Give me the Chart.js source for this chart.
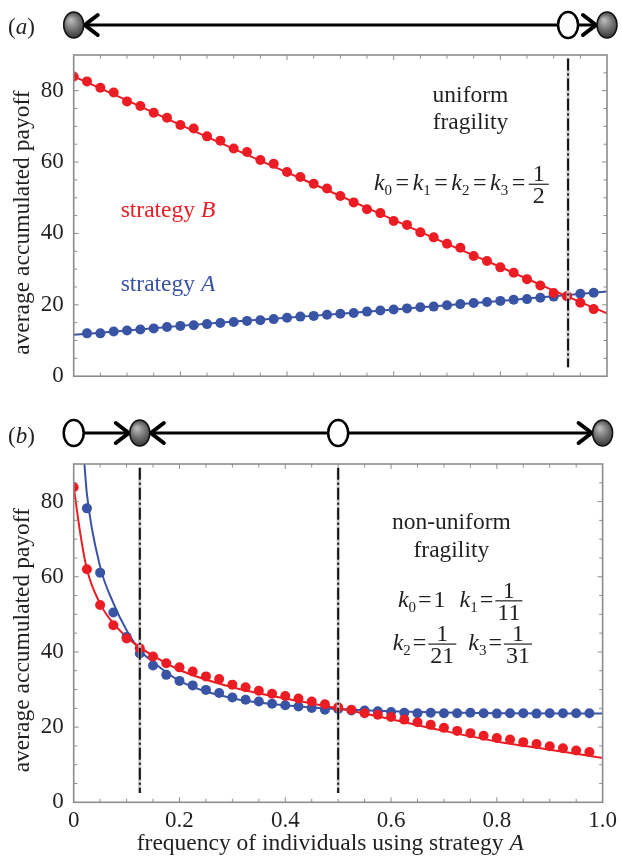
<!DOCTYPE html>
<html>
<head>
<meta charset="utf-8">
<script src="https://cdn.jsdelivr.net/npm/chart.js@4.4.1/dist/chart.umd.min.js"></script>
<style>
  html, body { margin: 0; padding: 0; background: #fff; }
  #wrap { position: relative; width: 622px; height: 856px; }
  canvas { position: absolute; left: 0; }
  #chartA { top: 0; }
  #chartB { top: 400px; }
</style>
</head>
<body>
<div id="wrap">
  <canvas id="chartA" width="622" height="400"></canvas>
  <canvas id="chartB" width="622" height="456"></canvas>
</div>
<script>
/* ==========================
   Data
   ========================== */
// frequency of A at which the simulated points sit
const xGrid = [0, 0.025, 0.05, 0.075, 0.1, 0.125, 0.15, 0.175, 0.2, 0.225,
  0.25, 0.275, 0.3, 0.325, 0.35, 0.375, 0.4, 0.425, 0.45, 0.475,
  0.5, 0.525, 0.55, 0.575, 0.6, 0.625, 0.65, 0.675, 0.7, 0.725,
  0.75, 0.775, 0.8, 0.825, 0.85, 0.875, 0.9, 0.925, 0.95, 0.975];

// (a) uniform fragility - simulation points
const redPtsA = [84.0, 82.6, 80.8, 79.5, 77.0, 75.7, 73.8, 72.4, 70.4, 69.4,
  67.2, 66.0, 63.8, 62.8, 60.6, 59.5, 57.2, 55.8, 53.9, 52.6,
  50.5, 48.7, 46.8, 45.7, 43.5, 42.4, 40.3, 38.9, 37.1, 36.0,
  33.7, 32.3, 30.5, 29.0, 27.2, 25.4, 23.3, 22.4, 20.6, 18.8];
const bluePtsA = [12.0, 12.0, 12.5, 12.8, 13.1, 13.4, 13.8, 14.1, 14.3,
  14.6, 14.9, 15.2, 15.5, 15.7, 16.0, 16.4, 16.7, 16.9, 17.2,
  17.5, 17.7, 18.1, 18.4, 18.7, 19.0, 19.3, 19.5, 19.9, 20.2,
  20.5, 20.8, 21.1, 21.4, 21.6, 22.0, 22.3, 22.4, 23.1, 23.4];
// (a) analytical curves
const lineXA = [0, 0.1, 0.2, 0.3, 0.4, 0.5, 0.6, 0.7, 0.8, 0.9, 1.0];
const redLineA = [84.0, 77.3, 70.4, 63.7, 57.1, 50.5, 43.8, 37.1, 30.6, 24.0, 17.6];
const blueLineA = [11.6, 12.8, 14.1, 15.3, 16.4, 17.5, 18.7, 19.9, 21.1, 22.4, 23.7];

// (b) non-uniform fragility - simulation points
const redPtsB = [83.8, 62.0, 52.5, 47.1, 43.6, 41.0, 38.8, 37.0, 35.9, 34.8,
  33.5, 32.8, 31.3, 30.6, 29.7, 28.9, 28.3, 27.6, 26.8, 26.1,
  25.3, 24.6, 23.7, 23.3, 22.7, 22.0, 21.3, 20.6, 19.8, 19.0,
  18.4, 17.7, 17.1, 16.7, 16.0, 15.5, 14.9, 14.4, 13.8, 13.4];
const bluePtsB = [78.2, 61.1, 50.5, 44.0, 39.6, 36.4, 33.9, 32.3, 31.1,
  29.9, 29.1, 27.9, 27.3, 26.8, 26.2, 25.8, 25.5, 25.1, 24.6,
  24.8, 24.4, 24.4, 24.2, 24.0, 23.8, 23.7, 23.8, 23.7, 23.7,
  23.8, 23.7, 23.6, 23.7, 23.7, 23.6, 23.7, 23.7, 23.7, 23.7];
// (b) analytical curves
const redLineXB = [0, 0.0125, 0.025, 0.05, 0.075, 0.1, 0.125, 0.15, 0.2, 0.3, 0.4, 0.5, 0.6, 0.7, 0.8, 0.9, 1.0];
const redLineB = [84.0, 71.5, 62.0, 52.8, 47.6, 44.0, 41.2, 39.0, 35.2, 30.6, 27.6, 25.0, 22.1, 19.0, 16.2, 14.0, 11.8];
const blueLineXB = [0.015, 0.02, 0.025, 0.05, 0.075, 0.1, 0.125, 0.15, 0.2, 0.3, 0.4, 0.5, 0.6, 0.7, 0.8, 1.0];
const blueLineB = [100, 90.5, 82.0, 62.7, 53.0, 45.8, 40.5, 37.3, 32.3, 27.7, 25.8, 24.8, 24.2, 23.9, 23.7, 23.6];

// fixed points of the replicator dynamics (phase lines above each panel)
const fixedA = [0, 0.927, 1];
const stableA = [true, false, true];
const fixedB = [0, 0.125, 0.5, 1];
const stableB = [false, true, false, true];

// ticks
const yTickVals = [0, 20, 40, 60, 80];
const yTickLabels = ['0', '20', '40', '60', '80'];
const yMinorTicks = [5, 10, 15, 20, 25, 30, 35, 40, 45, 50, 55, 60, 65, 70, 75, 80, 85];
const xTickVals = [0, 0.2, 0.4, 0.6, 0.8, 1.0];
const xTickLabels = ['0', '0.2', '0.4', '0.6', '0.8', '1.0'];
const xMinorTicks = [0.05, 0.1, 0.15, 0.2, 0.25, 0.3, 0.35, 0.4, 0.45, 0.5,
  0.55, 0.6, 0.65, 0.7, 0.75, 0.8, 0.85, 0.9, 0.95];

/* ==========================
   Styling
   ========================== */
const RED = '#ec1c24';
const BLUE = '#3953a5';
const INK = '#231f20';
const FRAME = '#8c8c8c';
const SERIF = '"Liberation Serif", "Times New Roman", serif';

function font(size, italic) {
  return (italic ? 'italic ' : '') + size + 'px ' + SERIF;
}

/* ==========================
   Rich text (italic, subscripts, fractions)
   ========================== */
function rich(ctx, items, x, y, size, color, draw) {
  ctx.fillStyle = color;
  ctx.strokeStyle = color;
  ctx.textBaseline = 'alphabetic';
  ctx.textAlign = 'left';
  let cx = x;
  items.forEach(it => {
    if (it.sp) { cx += it.sp; return; }
    if (it.f) {
      ctx.font = font(size);
      const w = Math.max(ctx.measureText(it.f[0]).width, ctx.measureText(it.f[1]).width) + (it.pad || 4);
      if (draw) {
        const bar = y - 6;
        ctx.lineWidth = 1.2;
        ctx.beginPath(); ctx.moveTo(cx, bar); ctx.lineTo(cx + w, bar); ctx.stroke();
        ctx.textAlign = 'center';
        ctx.fillText(it.f[0], cx + w / 2, y - 9);
        ctx.fillText(it.f[1], cx + w / 2, y + 13);
        ctx.textAlign = 'left';
      }
      cx += w;
      return;
    }
    const sz = it.s ? Math.round(size * 0.62) : size;
    ctx.font = font(sz, it.i);
    const g = it.g || 0;
    cx += g;
    if (draw) ctx.fillText(it.t, cx, y + (it.s ? 5 : 0));
    cx += ctx.measureText(it.t).width + g;
  });
  return cx - x;
}

function richAt(ctx, items, x, y, size, color, align) {
  let x0 = x;
  if (align === 'center') x0 = x - rich(ctx, items, 0, 0, size, color, false) / 2;
  rich(ctx, items, x0, y, size, color, true);
}

const k = (n, gap) => [{ t: 'k', i: 1 }, { t: String(n), s: 1 }, { t: '=', g: gap }];

/* ==========================
   Plugins
   ========================== */
function drawFrame(chart) {
  const { ctx, chartArea: a, scales: { x, y } } = chart;
  ctx.save();
  ctx.strokeStyle = FRAME;
  ctx.lineWidth = 1;
  const seg = (x1, y1, x2, y2) => { ctx.beginPath(); ctx.moveTo(x1, y1); ctx.lineTo(x2, y2); ctx.stroke(); };
  xMinorTicks.forEach(v => {
    const p = x.getPixelForValue(v);
    const L = xTickVals.includes(v) ? 5 : 3.5;
    seg(p, a.bottom, p, a.bottom - L);
    seg(p, a.top, p, a.top + L);
  });
  yMinorTicks.forEach(v => {
    const p = y.getPixelForValue(v);
    const L = yTickVals.includes(v) ? 5 : 3.5;
    seg(a.left, p, a.left + L, p);
    seg(a.right, p, a.right - L, p);
  });
  ctx.lineWidth = 1.6;
  ctx.strokeRect(a.left, a.top, a.right - a.left, a.bottom - a.top);
  ctx.restore();
}

function drawDashDot(chart, values) {
  const { ctx, scales: { x, y } } = chart;
  const top = y.getPixelForValue(89);
  const bot = y.getPixelForValue(2.5);
  ctx.save();
  values.forEach(v => {
    const p = x.getPixelForValue(v);
    ctx.strokeStyle = '#c8c8c8';
    ctx.lineWidth = 3;
    ctx.setLineDash([]);
    ctx.beginPath(); ctx.moveTo(p, top); ctx.lineTo(p, bot); ctx.stroke();
    ctx.strokeStyle = '#111';
    ctx.lineWidth = 2;
    ctx.setLineDash([12, 3, 2, 3]);
    ctx.beginPath(); ctx.moveTo(p, top); ctx.lineTo(p, bot); ctx.stroke();
  });
  ctx.restore();
}

function drawPhase(chart, pts, stable, yc) {
  const { ctx, scales: { x } } = chart;
  const px = pts.map(v => x.getPixelForValue(v));
  const RX = 10, RY = 13;
  ctx.save();
  ctx.strokeStyle = '#000';
  ctx.lineWidth = 3;
  ctx.beginPath(); ctx.moveTo(px[0], yc); ctx.lineTo(px[px.length - 1], yc); ctx.stroke();

  const chevron = (tx, dir) => {
    ctx.lineWidth = 4;
    ctx.lineJoin = 'miter';
    ctx.lineCap = 'round';
    ctx.beginPath();
    ctx.moveTo(tx - dir * 13, yc - 10);
    ctx.lineTo(tx, yc);
    ctx.lineTo(tx - dir * 13, yc + 10);
    ctx.stroke();
  };
  for (let i = 0; i < pts.length - 1; i++) {
    if (stable[i + 1]) chevron(px[i + 1] - RX - 1, 1);
    if (stable[i]) chevron(px[i] + RX + 1, -1);
  }
  px.forEach((p, i) => {
    ctx.beginPath();
    ctx.ellipse(p, yc, RX, RY, 0, 0, Math.PI * 2);
    if (stable[i]) {
      const g = ctx.createRadialGradient(p - 3, yc - 5, 1, p, yc, 15);
      g.addColorStop(0, '#b8b8b8');
      g.addColorStop(0.5, '#6c6c6c');
      g.addColorStop(1, '#262626');
      ctx.fillStyle = g;
      ctx.fill();
      ctx.lineWidth = 1.5;
      ctx.strokeStyle = '#111';
      ctx.stroke();
    } else {
      ctx.fillStyle = '#fff';
      ctx.fill();
      ctx.lineWidth = 2.5;
      ctx.strokeStyle = '#000';
      ctx.stroke();
    }
  });
  ctx.restore();
}

function drawYTitle(chart) {
  const { ctx, chartArea: a } = chart;
  ctx.save();
  ctx.translate(29, (a.top + a.bottom) / 2 + 7);
  ctx.rotate(-Math.PI / 2);
  ctx.font = font(23.5);
  ctx.fillStyle = INK;
  ctx.textAlign = 'center';
  ctx.textBaseline = 'alphabetic';
  ctx.fillText('average accumulated payoff', 0, 0);
  ctx.restore();
}

const decorA = {
  id: 'decorA',
  afterDraw(chart) {
    const { ctx, scales: { x, y } } = chart;
    drawDashDot(chart, fixedA.filter((v, i) => !stableA[i]));
    drawFrame(chart);
    drawPhase(chart, fixedA, stableA, 25);
    drawYTitle(chart);
    richAt(ctx, [{ t: '(' }, { t: 'a', i: 1 }, { t: ')' }], 8, 34, 23, INK);
    richAt(ctx, [{ t: 'uniform' }], x.getPixelForValue(0.744), y.getPixelForValue(76.8), 23.5, INK, 'center');
    richAt(ctx, [{ t: 'fragility' }], x.getPixelForValue(0.744), y.getPixelForValue(69.3), 23.5, INK, 'center');
    richAt(ctx, [...k(0, 3.5), ...k(1, 3.5), ...k(2, 3.5), ...k(3, 3.5), { f: ['1', '2'], pad: 8 }],
      x.getPixelForValue(0.563), y.getPixelForValue(52.1), 24, INK);
    richAt(ctx, [{ t: 'strategy ' }, { t: 'B', i: 1 }], x.getPixelForValue(0.088), y.getPixelForValue(44.6), 23.5, RED);
    richAt(ctx, [{ t: 'strategy ' }, { t: 'A', i: 1 }], x.getPixelForValue(0.088), y.getPixelForValue(23.8), 23.5, BLUE);
  }
};

const decorB = {
  id: 'decorB',
  afterDraw(chart) {
    const { ctx, scales: { x, y } } = chart;
    drawDashDot(chart, fixedB.filter(v => v > 0 && v < 1));
    drawFrame(chart);
    drawPhase(chart, fixedB, stableB, 33);
    drawYTitle(chart);
    richAt(ctx, [{ t: '(' }, { t: 'b', i: 1 }, { t: ')' }], 8, 43, 23, INK);
    richAt(ctx, [{ t: 'non-uniform' }], x.getPixelForValue(0.714), y.getPixelForValue(72.7), 23.5, INK, 'center');
    richAt(ctx, [{ t: 'fragility' }], x.getPixelForValue(0.714), y.getPixelForValue(65.3), 23.5, INK, 'center');
    richAt(ctx, [...k(0, 2), { t: '1' }, { sp: 14 }, ...k(1, 2), { f: ['1', '11'] }],
      x.getPixelForValue(0.613), y.getPixelForValue(52.0), 24, INK);
    richAt(ctx, [...k(2, 2), { f: ['1', '21'] }, { sp: 12 }, ...k(3, 2), { f: ['1', '31'] }],
      x.getPixelForValue(0.603), y.getPixelForValue(40.5), 24, INK);
    richAt(ctx, [{ t: 'frequency of individuals using strategy ' }, { t: 'A', i: 1 }],
      x.getPixelForValue(0.485), chart.height - 6, 23.5, INK, 'center');
  }
};

/* ==========================
   Chart builders
   ========================== */
function pts(xs, ys) {
  return ys.map((v, i) => ({ x: xs[i], y: v }));
}

function dotSet(data, color) {
  return {
    data, showLine: false, pointRadius: 5, pointHoverRadius: 5,
    pointBackgroundColor: color, pointBorderWidth: 0, borderColor: color
  };
}

function curveSet(data, color) {
  return {
    data, showLine: true, pointRadius: 0, borderWidth: 2, borderColor: color,
    cubicInterpolationMode: 'monotone', fill: false
  };
}

function makeChart(id, datasets, opts) {
  return new Chart(document.getElementById(id), {
    type: 'scatter',
    data: { datasets },
    options: {
      responsive: false,
      animation: false,
      events: [],
      layout: { padding: { top: opts.top, right: 15, left: 0, bottom: 0 } },
      plugins: { legend: { display: false }, tooltip: { enabled: false } },
      scales: {
        x: {
          type: 'linear', min: 0, max: 1,
          grid: { display: false, drawTicks: false },
          border: { display: false },
          afterBuildTicks: s => { s.ticks = xTickVals.map(v => ({ value: v })); },
          afterFit: s => { s.height = opts.xHeight; },
          ticks: {
            display: opts.xLabels,
            padding: 5,
            color: INK,
            font: { family: SERIF, size: 23 },
            maxRotation: 0,
            callback: (v, i) => xTickLabels[i]
          }
        },
        y: {
          type: 'linear', min: 0, max: 90,
          grid: { display: false, drawTicks: false },
          border: { display: false },
          afterBuildTicks: s => { s.ticks = yTickVals.map(v => ({ value: v })); },
          afterFit: s => { s.width = 73.7; },
          ticks: {
            padding: 10,
            color: INK,
            font: { family: SERIF, size: 23 },
            callback: (v, i) => yTickLabels[i]
          }
        }
      }
    },
    plugins: [opts.decor]
  });
}

function init() {
  makeChart('chartA', [
    dotSet(pts(xGrid, redPtsA), RED),
    dotSet(pts(xGrid.slice(1), bluePtsA), BLUE),
    curveSet(pts(lineXA, redLineA), RED),
    curveSet(pts(lineXA, blueLineA), BLUE)
  ], { top: 55, xHeight: 13.3, xLabels: false, decor: decorA });

  makeChart('chartB', [
    dotSet(pts(xGrid, redPtsB), RED),
    dotSet(pts(xGrid.slice(1), bluePtsB), BLUE),
    curveSet(pts(redLineXB, redLineB), RED),
    curveSet(pts(blueLineXB, blueLineB), BLUE)
  ], { top: 64, xHeight: 53.7, xLabels: true, decor: decorB });
}

if (document.readyState === 'loading') {
  document.addEventListener('DOMContentLoaded', init);
} else {
  init();
}
</script>
</body>
</html>
